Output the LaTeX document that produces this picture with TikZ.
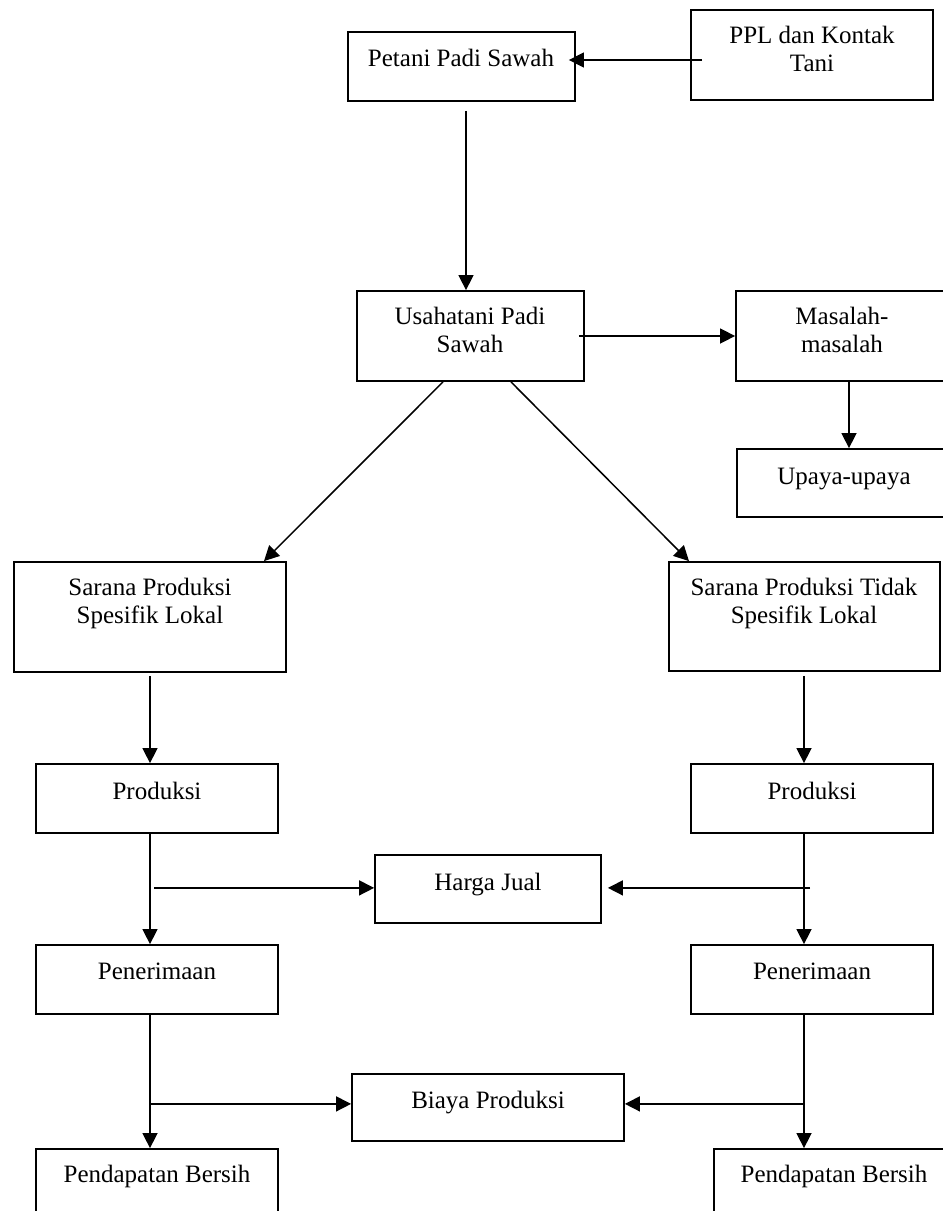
\documentclass[tikz,border=0pt]{standalone}
\usepackage{fontspec}
\setmainfont{Liberation Serif}
\usetikzlibrary{arrows.meta,calc}
\begin{document}
\begin{tikzpicture}[x=0.5pt,y=-0.5pt,
  box/.style={draw, line width=0.9pt, rectangle, inner sep=0pt},
  txt/.style={font=\fontsize{12.5}{14}\selectfont, align=center, inner sep=0pt, text depth=0pt},
  arr/.style={-{Triangle[length=7.5pt,width=7.5pt]}, line width=0.75pt}]
\useasboundingbox (0,0) rectangle (943,1211);
\clip (0,0) rectangle (943,1211);
% boxes
\node[box, minimum width=113.5pt, minimum height=34.5pt] (pet) at (461.5,66.5) {};
\node[box, minimum width=121pt, minimum height=45pt] (ppl) at (812,55) {};
\node[box, minimum width=113.5pt, minimum height=45pt] (usa) at (470.5,336) {};
\node[box, minimum width=106pt, minimum height=45pt] (mas) at (842,336) {};
\node[box, minimum width=107pt, minimum height=34pt] (upa) at (844,483) {};
\node[box, minimum width=136pt, minimum height=55pt] (sl) at (150,617) {};
\node[box, minimum width=135.5pt, minimum height=54.5pt] (sr) at (804.5,616.5) {};
\node[box, minimum width=121pt, minimum height=34.5pt] (pl) at (157,798.5) {};
\node[box, minimum width=121pt, minimum height=34.5pt] (pr) at (812,798.5) {};
\node[box, minimum width=113pt, minimum height=34pt] (hj) at (488,889) {};
\node[box, minimum width=121pt, minimum height=34.5pt] (nl) at (157,979.5) {};
\node[box, minimum width=121pt, minimum height=34.5pt] (nr) at (812,979.5) {};
\node[box, minimum width=136pt, minimum height=33.5pt] (bp) at (488,1107.5) {};
\node[box, minimum width=121pt, minimum height=40.5pt] (dl) at (157,1189.5) {};
\node[box, minimum width=120pt, minimum height=40.5pt] (dr) at (834,1189.5) {};
% texts
\node[txt] (tpet) at (461,58) {Petani Padi Sawah};
\node[txt] (tppl) at (812,49) {PPL dan Kontak\\Tani};
\node[txt] (tusa) at (470,330) {Usahatani Padi\\Sawah};
\node[txt] (tmas) at (842,330) {Masalah-\\masalah};
\node[txt] (tupa) at (844,476) {Upaya-upaya};
\node[txt] (tsl) at (150,601) {Sarana Produksi\\Spesifik Lokal};
\node[txt] (tsr) at (804,601) {Sarana Produksi Tidak\\Spesifik Lokal};
\node[txt] (tpl) at (157,791) {Produksi};
\node[txt] (tpr) at (812,791) {Produksi};
\node[txt] (thj) at (488,882) {Harga Jual};
\node[txt] (tnl) at (157,971) {Penerimaan};
\node[txt] (tnr) at (812,971) {Penerimaan};
\node[txt] (tbp) at (488,1100) {Biaya Produksi};
\node[txt] (tdl) at (157,1174) {Pendapatan Bersih};
\node[txt] (tdr) at (834,1174) {Pendapatan Bersih};
% connectors
\draw[arr] ($(ppl.west)+(12,5)$) -- ($(pet.east)+(-7,-6.5)$);
\draw[arr] ($(pet.south)+(4.5,9)$) coordinate (c1) -- (c1 |- usa.north);
\draw[arr] ($(usa.east)+(-6,0)$) -- (mas.west);
\draw[arr] ($(mas.south)+(7,0)$) coordinate (c2) -- (c2 |- upa.north);
\draw[arr] ($(usa.south)+(-27.5,0)$) -- ($(sl.north)+(114,0)$);
\draw[arr] ($(usa.south)+(40.5,0)$) -- ($(sr.north)+(-115.5,0)$);
\draw[arr] ($(sl.south)+(0,3)$) coordinate (c3) -- (c3 |- pl.north);
\draw[arr] ($(sr.south)+(-0.5,4)$) coordinate (c4) -- (c4 |- pr.north);
\draw[arr] ($(pl.south)+(-7,0)$) coordinate (c5) -- (c5 |- nl.north);
\draw[arr] ($(pl.south)+(-3,54)$) coordinate (c6) -- (c6 -| hj.west);
\draw[arr] ($(pr.south)+(-8,0)$) coordinate (c7) -- (c7 |- nr.north);
\draw[arr] ($(pr.south)+(-2,54)$) coordinate (c8) -- ($(c8 -| hj.east)+(6,0)$);
\draw[arr] ($(nl.south)+(-7,0)$) coordinate (c9) -- (c9 |- dl.north);
\draw[arr] ($(nl.south)+(-7,89)$) coordinate (c10) -- (c10 -| bp.west);
\draw[arr] ($(nr.south)+(-8,0)$) coordinate (c11) -- (c11 |- dr.north);
\draw[arr] ($(nr.south)+(-8,89)$) coordinate (c12) -- (c12 -| bp.east);
\end{tikzpicture}
\end{document}
